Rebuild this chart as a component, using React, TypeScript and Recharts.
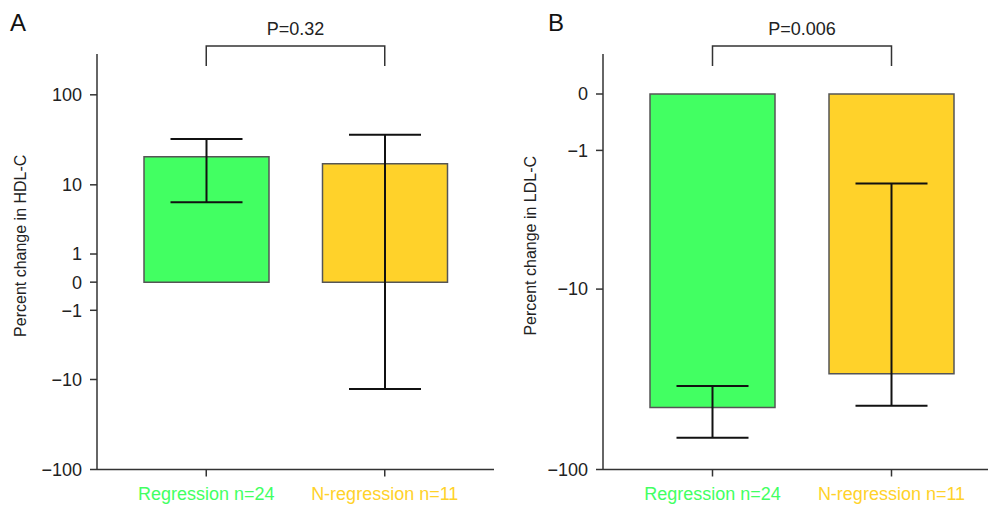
import React from "react";
import { BarChart, Bar, Cell, XAxis, YAxis, ErrorBar, ReferenceLine } from "recharts";

const groups = ["Regression n=24", "N-regression n=11"];
const groupColors = ["#42FF62", "#FFD22A"];

// HDL-C percent change: mean and error bar ends
const hdlMean = [21, 17.5];
const hdlLower = [6.15, -12.9];
const hdlUpper = [33, 36.8];
const hdlTicks = [-100, -10, -1, 0, 1, 10, 100];

// LDL-C percent change
const ldlMean = [-46.2, -30.1];
const ldlLower = [-67.3, -45.1];
const ldlUpper = [-35.2, -2];
const ldlTicks = [-100, -10, -1, 0];

const font = "'Liberation Sans', Arial, Helvetica, sans-serif";
const ink = "#333";

const toRows = (mean: number[], lower: number[], upper: number[]) =>
  groups.map((name, i) => ({ name, value: mean[i], err: [mean[i] - lower[i], upper[i] - mean[i]] }));

const fmt = (v: number) => (v < 0 ? `\u2212${-v}` : `${v}`);

function CatTick(props: any) {
  const { x, y, payload, index } = props;
  return (
    <text x={x} y={y} dy={21} textAnchor="middle" fill={groupColors[index]} fontSize={18} fontFamily={font}>
      {payload.value}
    </text>
  );
}

function YLabel(props: any) {
  const { viewBox, text, dx } = props;
  const x = viewBox.x + dx;
  const y = viewBox.y + viewBox.height / 2 - 16;
  return (
    <text
      x={x}
      y={y}
      transform={`rotate(-90, ${x}, ${y})`}
      textAnchor="middle"
      dominantBaseline="central"
      fontSize={16}
      fill="#222"
      fontFamily={font}
    >
      {text}
    </text>
  );
}

function Bracket(props: any) {
  const { x1, y1, x2, p } = props;
  return (
    <g>
      <path d={`M${x1},${y1 + 12}V${y1 - 8}H${x2}V${y1 + 12}`} fill="none" stroke={ink} strokeWidth={1.5} />
      <text x={(x1 + x2) / 2} y={y1 - 19} textAnchor="middle" fontSize={18} fill="#222" fontFamily={font}>
        {p}
      </text>
    </g>
  );
}

function Panel(props: {
  rows: any[];
  ticks: number[];
  domain: [number, number];
  yWidth: number;
  padRight: number;
  label: string;
  labelDx: number;
  p: string;
}) {
  const { rows, ticks, domain, yWidth, padRight, label, labelDx, p } = props;
  return (
    <BarChart width={494} height={507} data={rows} margin={{ top: 54, right: 0, bottom: 7.5, left: 0 }}>
      <XAxis
        dataKey="name"
        height={30}
        padding={{ left: 20, right: padRight }}
        tickSize={7}
        axisLine={{ stroke: ink, strokeWidth: 1.5 }}
        tickLine={{ stroke: ink, strokeWidth: 1.5 }}
        tick={<CatTick />}
        interval={0}
      />
      <YAxis
        type="number"
        scale="symlog"
        domain={domain}
        allowDataOverflow
        ticks={ticks}
        interval={0}
        width={yWidth}
        tickSize={7}
        tickMargin={8}
        tickFormatter={fmt}
        axisLine={{ stroke: ink, strokeWidth: 1.5 }}
        tickLine={{ stroke: ink, strokeWidth: 1.5 }}
        tick={{ fill: "#222", fontSize: 18, fontFamily: font }}
        label={<YLabel text={label} dx={labelDx} />}
      />
      <Bar dataKey="value" barSize={125} stroke="#555" strokeWidth={1.5} isAnimationActive={false}>
        {rows.map((r, i) => (
          <Cell key={r.name} fill={groupColors[i]} />
        ))}
        <ErrorBar dataKey="err" direction="y" width={36} stroke="#111" strokeWidth={2} isAnimationActive={false} />
      </Bar>
      <ReferenceLine
        segment={[
          { x: groups[0], y: domain[1] },
          { x: groups[1], y: domain[1] },
        ]}
        ifOverflow="visible"
        shape={(s: any) => <Bracket {...s} p={p} />}
      />
    </BarChart>
  );
}

export default function App() {
  const hdlRows = toRows(hdlMean, hdlLower, hdlUpper);
  const ldlRows = toRows(ldlMean, ldlLower, ldlUpper);
  return (
    <div style={{ position: "absolute", left: 0, top: 0, width: 988, height: 507, background: "#fff", fontFamily: font }}>
      <div style={{ position: "absolute", left: 0, top: 0 }}>
        <Panel rows={hdlRows} ticks={hdlTicks} domain={[-100, 275]} yWidth={97} padRight={20} label="Percent change in HDL-C" labelDx={20} p="P=0.32" />
      </div>
      <div style={{ position: "absolute", left: 494, top: 0 }}>
        <Panel rows={ldlRows} ticks={ldlTicks} domain={[-100, 0.635]} yWidth={109} padRight={7} label="Percent change in LDL-C" labelDx={36} p="P=0.006" />
      </div>
      <div style={{ position: "absolute", left: 10, top: 9, fontSize: 24, color: "#111", lineHeight: "28px" }}>A</div>
      <div style={{ position: "absolute", left: 548, top: 9, fontSize: 24, color: "#111", lineHeight: "28px" }}>B</div>
    </div>
  );
}
